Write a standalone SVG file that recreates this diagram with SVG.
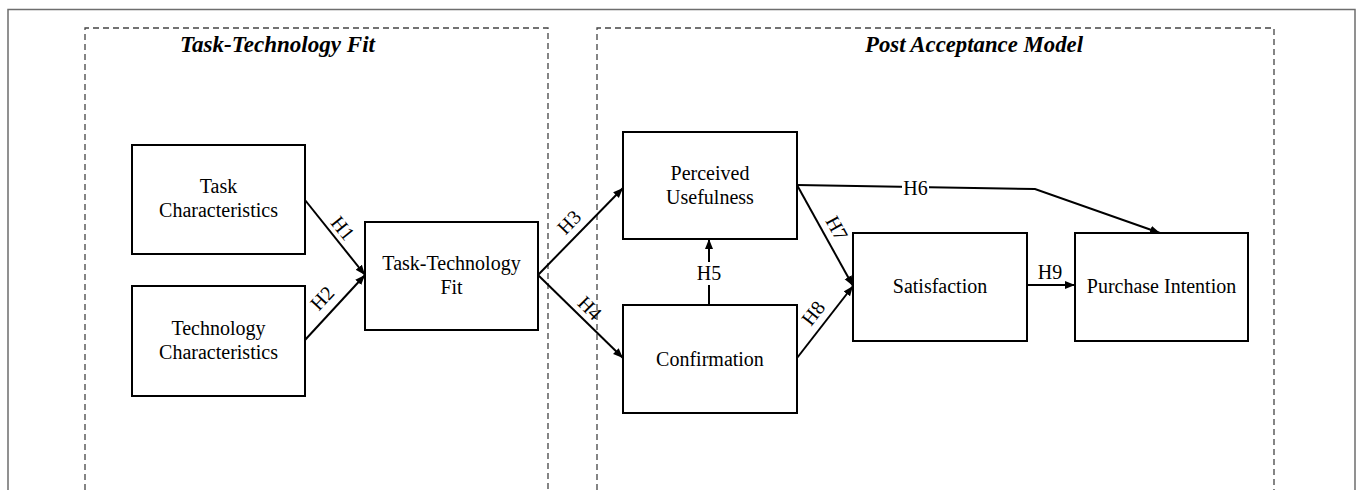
<svg xmlns="http://www.w3.org/2000/svg" width="1358" height="490" viewBox="0 0 1358 490">
<style>
.frame{fill:none;stroke:#6e6e6e;stroke-width:1.5}
.group{fill:none;stroke:#444;stroke-width:1.3;stroke-dasharray:6 4}
.box{fill:#fff;stroke:#000;stroke-width:2}
.t{font-family:"Liberation Serif","Times New Roman",serif;font-size:20px;fill:#000;text-anchor:middle}
.title{font-family:"Liberation Serif","Times New Roman",serif;font-size:22.5px;font-weight:bold;font-style:italic;fill:#000;text-anchor:middle}
.c{fill:none;stroke:#000;stroke-width:2}
.lbl{font-family:"Liberation Serif","Times New Roman",serif;font-size:20px;fill:#000;text-anchor:middle}
</style>
<defs>
<marker id="arr" markerUnits="userSpaceOnUse" markerWidth="12" markerHeight="10" refX="10" refY="4" orient="auto">
<path d="M0,0 L10,4 L0,8 z" fill="#000"/>
</marker>
</defs>
<rect x="0" y="0" width="1358" height="490" fill="#fff"/>
<path class="frame" d="M8,500 L8,9.5 L1355,9.5 L1355,500"/>
<g id="group-ttf">
<path class="group" d="M85,500 L85,28 L548,28 L548,500"/>
<text class="title" x="277.5" y="52" textLength="195" lengthAdjust="spacingAndGlyphs">Task-Technology Fit</text>
</g>
<g id="group-pam">
<path class="group" d="M597,500 L597,28 L1274,28 L1274,500"/>
<text class="title" x="974" y="52" textLength="218" lengthAdjust="spacingAndGlyphs">Post Acceptance Model</text>
</g>
<g id="connectors">
<line class="c" x1="305" y1="200" x2="365" y2="275" marker-end="url(#arr)"/>
<line class="c" x1="305" y1="340" x2="365" y2="275" marker-end="url(#arr)"/>
<line class="c" x1="538" y1="275" x2="623" y2="188" marker-end="url(#arr)"/>
<line class="c" x1="538" y1="275" x2="623" y2="358" marker-end="url(#arr)"/>
<line class="c" x1="709" y1="305" x2="709" y2="285"/>
<line class="c" x1="709" y1="262" x2="709" y2="239" marker-end="url(#arr)"/>
<path class="c" d="M797,185 L1035,189 L1160,233" marker-end="url(#arr)"/>
<line class="c" x1="797" y1="185" x2="853" y2="286" marker-end="url(#arr)"/>
<line class="c" x1="797" y1="358" x2="853" y2="286" marker-end="url(#arr)"/>
<line class="c" x1="1027" y1="285" x2="1075" y2="285" marker-end="url(#arr)"/>
<rect x="902" y="177" width="27" height="22" fill="#fff"/>
<text class="lbl" x="915.5" y="195">H6</text>
<text class="lbl" x="709" y="280">H5</text>
<text class="lbl" x="1050" y="279">H9</text>
<text class="lbl" transform="translate(343,228) rotate(51)" y="7">H1</text>
<text class="lbl" transform="translate(322,298) rotate(-47)" y="7">H2</text>
<text class="lbl" transform="translate(569,222) rotate(-46)" y="7">H3</text>
<text class="lbl" transform="translate(590,308) rotate(45)" y="7">H4</text>
<text class="lbl" transform="translate(837,228) rotate(61)" y="7">H7</text>
<text class="lbl" transform="translate(813,313) rotate(-52)" y="7">H8</text>
</g>
<g id="node-task">
<rect class="box" x="132" y="145" width="173" height="109"/>
<text class="t" x="218.5" y="193">Task</text>
<text class="t" x="218.5" y="217">Characteristics</text>
</g>
<g id="node-tech">
<rect class="box" x="132" y="286" width="173" height="110"/>
<text class="t" x="218.5" y="335">Technology</text>
<text class="t" x="218.5" y="359">Characteristics</text>
</g>
<g id="node-ttf">
<rect class="box" x="365" y="222" width="173" height="108"/>
<text class="t" x="451.5" y="270">Task-Technology</text>
<text class="t" x="451.5" y="294">Fit</text>
</g>
<g id="node-pu">
<rect class="box" x="623" y="132" width="174" height="107"/>
<text class="t" x="710" y="180">Perceived</text>
<text class="t" x="710" y="204">Usefulness</text>
</g>
<g id="node-conf">
<rect class="box" x="623" y="305" width="174" height="108"/>
<text class="t" x="710" y="366">Confirmation</text>
</g>
<g id="node-sat">
<rect class="box" x="853" y="233" width="174" height="108"/>
<text class="t" x="940" y="293">Satisfaction</text>
</g>
<g id="node-pi">
<rect class="box" x="1075" y="233" width="173" height="108"/>
<text class="t" x="1161.5" y="293">Purchase Intention</text>
</g>
</svg>
